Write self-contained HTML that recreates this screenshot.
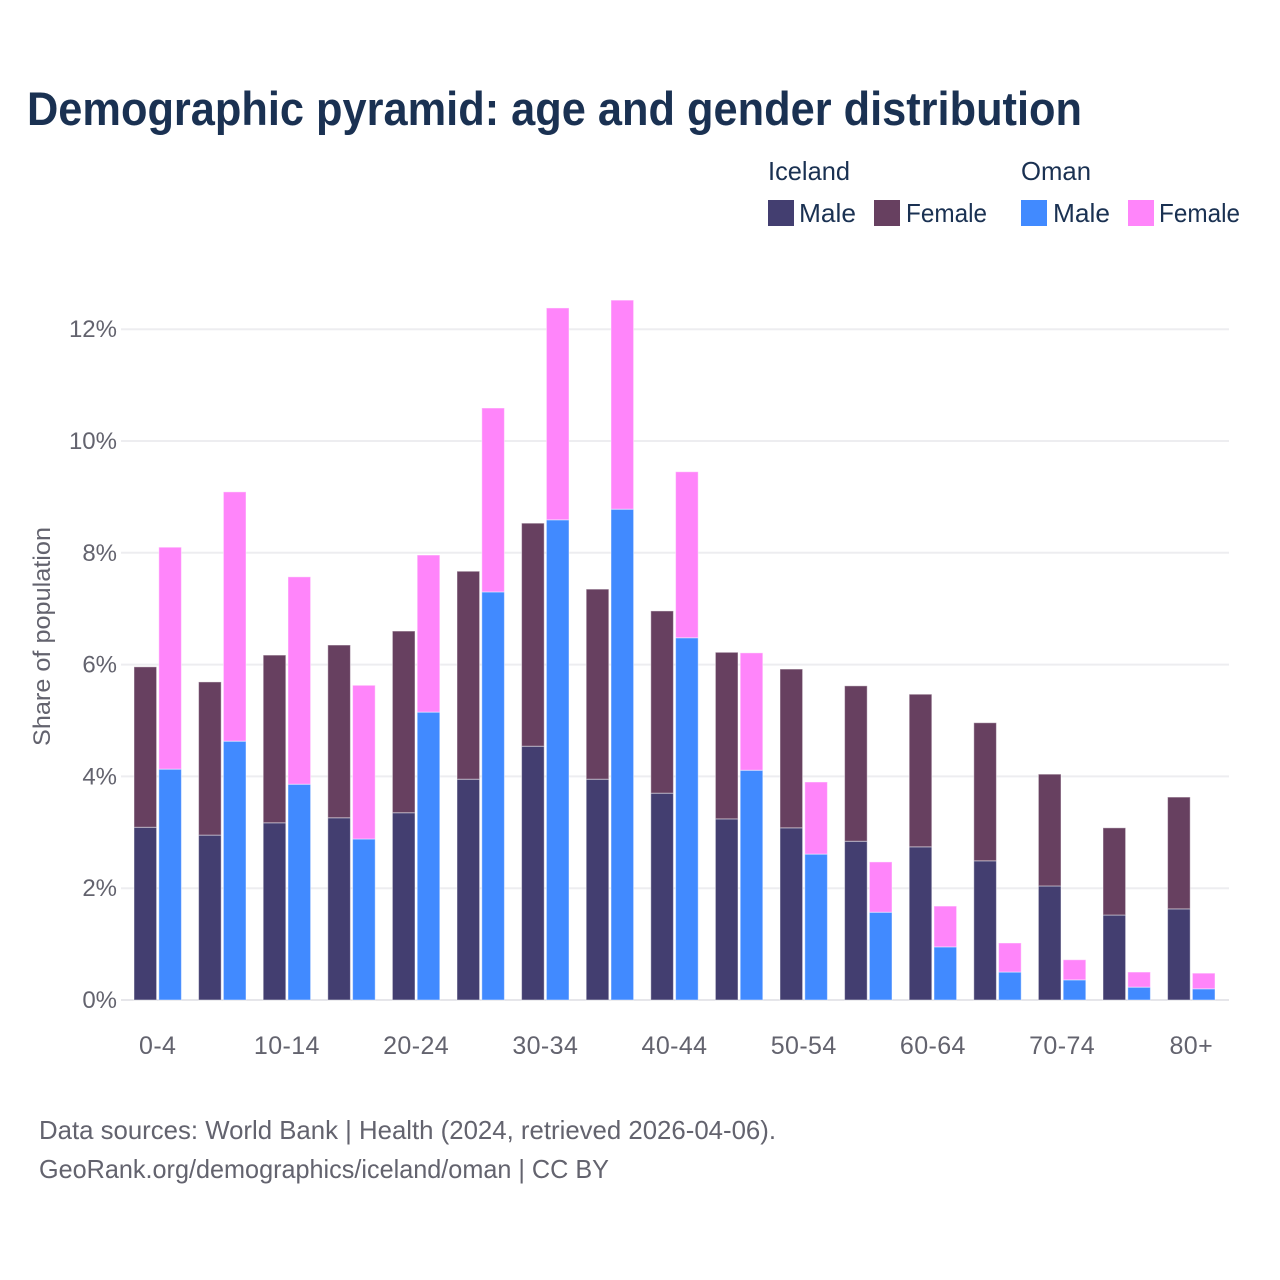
<!DOCTYPE html>
<html lang="en">
<head>
<meta charset="utf-8">
<title>Demographic pyramid: age and gender distribution</title>
<style>
html,body{margin:0;padding:0;background:#fff;}
svg{display:block;font-family:"Liberation Sans",sans-serif;}
</style>
</head>
<body>
<svg id="chart" width="1280" height="1280" viewBox="0 0 1280 1280" xmlns="http://www.w3.org/2000/svg">
<rect x="0" y="0" width="1280" height="1280" fill="#ffffff"/>
<text x="27" y="125" font-size="47" font-weight="700" fill="#1a3152" textLength="1055" lengthAdjust="spacingAndGlyphs">Demographic pyramid: age and gender distribution</text>
<g font-size="26" fill="#1a3152">
<text x="768" y="180" textLength="82" lengthAdjust="spacingAndGlyphs">Iceland</text>
<text x="1021" y="180" textLength="70" lengthAdjust="spacingAndGlyphs">Oman</text>
<rect x="768" y="200" width="26" height="26" fill="#433e70"/>
<text x="799" y="222" textLength="57" lengthAdjust="spacingAndGlyphs">Male</text>
<rect x="874" y="200" width="26" height="26" fill="#674060"/>
<text x="906" y="222" textLength="81" lengthAdjust="spacingAndGlyphs">Female</text>
<rect x="1021" y="200" width="26" height="26" fill="#418aff"/>
<text x="1053" y="222" textLength="57" lengthAdjust="spacingAndGlyphs">Male</text>
<rect x="1128" y="200" width="26" height="26" fill="#ff85fa"/>
<text x="1159" y="222" textLength="81" lengthAdjust="spacingAndGlyphs">Female</text>
</g>
<g id="grid"></g>
<g id="yticks"></g>
<text transform="translate(50,636.5) rotate(-90)" text-anchor="middle" font-size="24" fill="#63636e" textLength="219" lengthAdjust="spacingAndGlyphs">Share of population</text>
<g id="bars"></g>
<g id="xticks"></g>
<g font-size="26" fill="#63636e">
<text x="39" y="1139" textLength="737" lengthAdjust="spacingAndGlyphs">Data sources: World Bank | Health (2024, retrieved 2026-04-06).</text>
<text x="39" y="1178" textLength="570" lengthAdjust="spacingAndGlyphs">GeoRank.org/demographics/iceland/oman | CC BY</text>
</g>
</svg>
<script>
const ageGroups = ["0-4","5-9","10-14","15-19","20-24","25-29","30-34","35-39","40-44","45-49","50-54","55-59","60-64","65-69","70-74","75-79","80+"];
const icelandMale = [3.09,2.95,3.17,3.26,3.35,3.95,4.54,3.95,3.70,3.24,3.08,2.84,2.74,2.49,2.04,1.52,1.63];
const icelandFemale = [2.87,2.74,3.00,3.09,3.25,3.72,3.99,3.40,3.26,2.98,2.84,2.78,2.73,2.47,2.00,1.56,2.00];
const omanMale = [4.13,4.63,3.86,2.88,5.15,7.30,8.59,8.78,6.48,4.11,2.61,1.57,0.95,0.50,0.36,0.23,0.20];
const omanFemale = [3.97,4.46,3.71,2.75,2.81,3.29,3.79,3.74,2.97,2.10,1.29,0.90,0.73,0.52,0.36,0.27,0.28];
const yTickValues = [0,2,4,6,8,10,12];
const xTickEvery = 2;

const NS = "http://www.w3.org/2000/svg";
const yZero = 1000, pxPerUnit = 55.9;
const bandStart = 134, bandStep = 64.6, barWidth = 22.6, barGap = 2.2;
function yScale(v){ return yZero - v * pxPerUnit; }
function xScale(i, seriesIndex){ return bandStart + i * bandStep + seriesIndex * (barWidth + barGap); }
function xCenter(i){ return bandStart + i * bandStep + barWidth + barGap / 2; }

const gridLayer = document.getElementById("grid");
const yTickLayer = document.getElementById("yticks");
yTickValues.forEach(function(v){
  const line = document.createElementNS(NS, "line");
  
  
  line.setAttribute("x1", 121);
  line.setAttribute("x2", 1229);
  line.setAttribute("y1", yScale(v));
  line.setAttribute("y2", yScale(v));
  line.setAttribute("stroke", v === 0 ? "#e6e6ea" : "#ededf0");
  line.setAttribute("stroke-width", 2);
  gridLayer.appendChild(line);
  const label = document.createElementNS(NS, "text");
  
  
  label.setAttribute("x", 117);
  label.setAttribute("y", yScale(v) + 8);
  label.setAttribute("text-anchor", "end");
  label.setAttribute("font-size", 24);
  label.setAttribute("fill", "#63636e");
  label.textContent = v + "%";
  yTickLayer.appendChild(label);
});

const barLayer = document.getElementById("bars");
function addBar(i, seriesIndex, base, value, color, name){
  const rect = document.createElementNS(NS, "rect");
  
  
  rect.setAttribute("x", xScale(i, seriesIndex));
  rect.setAttribute("y", yScale(base + value));
  rect.setAttribute("width", barWidth);
  rect.setAttribute("height", yScale(base) - yScale(base + value));
  rect.setAttribute("fill", color);
  rect.setAttribute("stroke", "#ffffff");
  rect.setAttribute("stroke-opacity", "0.45");
  rect.setAttribute("stroke-width", "1");
  barLayer.appendChild(rect);
}
ageGroups.forEach(function(age, i){
  addBar(i, 0, 0, icelandMale[i], "#433e70", "bar-iceland-male");
  addBar(i, 0, icelandMale[i], icelandFemale[i], "#674060", "bar-iceland-female");
  addBar(i, 1, 0, omanMale[i], "#418aff", "bar-oman-male");
  addBar(i, 1, omanMale[i], omanFemale[i], "#ff85fa", "bar-oman-female");
});

const xTickLayer = document.getElementById("xticks");
ageGroups.forEach(function(age, i){
  if (i % xTickEvery !== 0) return;
  const label = document.createElementNS(NS, "text");
  
  
  label.setAttribute("x", xCenter(i));
  label.setAttribute("y", 1054);
  label.setAttribute("text-anchor", "middle");
  label.setAttribute("font-size", 25);
  label.setAttribute("letter-spacing", "0.4");
  label.setAttribute("fill", "#63636e");
  label.textContent = age;
  xTickLayer.appendChild(label);
});
</script>
</body>
</html>
